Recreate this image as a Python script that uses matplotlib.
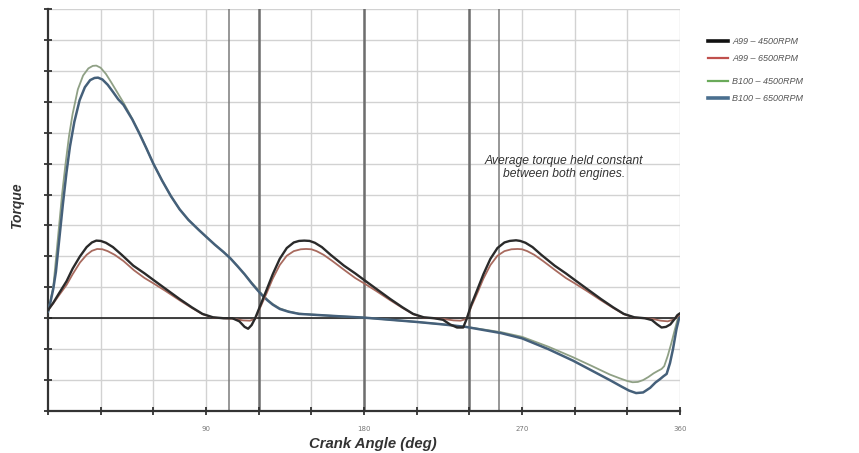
import numpy as np
import matplotlib
matplotlib.use('Agg')
from matplotlib import pyplot as plt
from matplotlib.lines import Line2D

# A99 - 4500RPM (three pulses per revolution)
a99_4500_deg = [0, 3, 6, 10.6, 14, 18.2, 22, 25, 27.5, 30, 33, 37, 42, 48.6, 55, 60, 67, 75, 82, 88, 94,
                100, 105, 109, 112, 114, 116, 118, 121, 124.6, 128, 132, 136, 140, 143, 146, 149, 152,
                156, 161, 168.6, 175, 180, 187, 195, 202, 208, 214, 220, 225, 229, 233, 236.5, 238.5,
                241, 244.6, 248, 252, 256, 260, 263, 266.6, 269, 272, 276, 281, 288.6, 295, 300, 307,
                315, 322, 328, 334, 340, 344, 347, 349.5, 352, 354.5, 357, 358.5, 360]
a99_4500_val = [0.26, 0.5, 0.78, 1.2, 1.6, 2.0, 2.3, 2.45, 2.51, 2.5, 2.44, 2.3, 2.05, 1.7, 1.45, 1.24,
                0.95, 0.62, 0.35, 0.14, 0.03, 0.0, 0.0, -0.1, -0.28, -0.34, -0.22, 0.0, 0.42, 0.93,
                1.42, 1.92, 2.27, 2.45, 2.5, 2.51, 2.5, 2.44, 2.3, 2.05, 1.7, 1.45, 1.24, 0.95, 0.62,
                0.35, 0.14, 0.03, 0.0, -0.05, -0.2, -0.3, -0.3, -0.02, 0.42, 0.93, 1.42, 1.92, 2.27,
                2.45, 2.5, 2.52, 2.5, 2.44, 2.3, 2.05, 1.7, 1.45, 1.24, 0.95, 0.62, 0.35, 0.14, 0.03,
                0.0, -0.06, -0.2, -0.3, -0.28, -0.2, -0.02, 0.1, 0.16]

# A99 - 6500RPM
a99_6500_deg = [0, 3, 6, 10.6, 14, 18.2, 22, 25, 28, 31, 34, 38, 43, 49, 55, 60, 67, 75, 82, 88, 94, 100,
                106, 111, 115, 118, 121, 124.6, 128, 132, 136, 140, 144, 147, 150, 153, 157, 162, 169,
                175, 180, 187, 195, 202, 208, 214, 220, 226, 231, 235, 238.5, 241, 244.6, 248, 252,
                256, 260, 264, 267.5, 270, 273, 277, 282, 289, 295, 300, 307, 315, 322, 328, 334, 340,
                345, 349, 353, 356, 358.5, 360]
a99_6500_val = [0.26, 0.48, 0.72, 1.08, 1.42, 1.8, 2.05, 2.18, 2.24, 2.23, 2.17, 2.05, 1.85, 1.55, 1.3,
                1.13, 0.88, 0.58, 0.33, 0.13, 0.02, 0.0, -0.02, -0.07, -0.08, -0.02, 0.36, 0.82, 1.28,
                1.72, 2.02, 2.17, 2.23, 2.24, 2.23, 2.17, 2.05, 1.85, 1.55, 1.3, 1.13, 0.88, 0.58,
                0.33, 0.13, 0.02, 0.0, -0.03, -0.07, -0.08, -0.02, 0.36, 0.82, 1.28, 1.72, 2.02, 2.17,
                2.23, 2.24, 2.23, 2.17, 2.05, 1.85, 1.55, 1.3, 1.13, 0.88, 0.58, 0.33, 0.13, 0.02,
                0.0, -0.03, -0.08, -0.1, -0.05, 0.05, 0.12]

# B100 - 4500RPM (one big pulse per revolution)
b100_4500_deg = [0, 1.5, 3, 4, 6, 8, 10, 12, 14, 17, 20, 23, 25.5, 27.5, 30, 33, 36, 39.5, 43, 48, 52,
                 56, 60, 65, 70, 75, 80, 86, 90, 95, 100, 104, 108, 112, 116, 119, 122, 125, 128, 132,
                 137, 143, 155, 167, 180, 195, 210, 225, 238, 250, 258, 270, 285, 299, 310, 320, 326,
                 330, 333, 336, 339, 342, 345, 347.5, 349.5, 351, 353, 355, 357, 358.5, 360]
b100_4500_val = [0.2, 0.6, 1.0, 1.6, 2.8, 4.0, 5.0, 5.9, 6.6, 7.4, 7.85, 8.08, 8.16, 8.17, 8.1, 7.9,
                 7.63, 7.3, 6.97, 6.45, 6.0, 5.5, 5.0, 4.45, 3.95, 3.52, 3.18, 2.85, 2.64, 2.38, 2.14,
                 1.93, 1.68, 1.42, 1.15, 0.96, 0.77, 0.6, 0.46, 0.32, 0.22, 0.15, 0.1, 0.06, 0.02,
                 -0.05, -0.12, -0.2, -0.28, -0.38, -0.45, -0.6, -0.92, -1.26, -1.55, -1.82, -1.95,
                 -2.03, -2.07, -2.06, -2.0, -1.9, -1.78, -1.7, -1.64, -1.55, -1.22, -0.82, -0.38,
                 -0.06, 0.16]

# B100 - 6500RPM
b100_6500_deg = [0, 1.5, 3, 4.5, 6.5, 8.5, 10.5, 12.5, 15, 18, 21, 24, 26.5, 28.5, 31, 34, 37, 40, 43,
                 48, 52, 56, 60, 65, 70, 75, 80, 86, 90, 95, 100, 104, 108, 112, 116, 119, 122, 125,
                 128, 132, 137, 143, 155, 167, 180, 195, 210, 225, 238, 250, 258, 270, 285, 299, 310,
                 320, 327, 331, 335, 339, 343, 346, 348.6, 350.5, 352.4, 354.3, 356, 358, 360]
b100_6500_val = [0.2, 0.55, 0.95, 1.5, 2.6, 3.7, 4.7, 5.55, 6.35, 7.05, 7.47, 7.7, 7.77, 7.78, 7.72,
                 7.55, 7.32, 7.08, 6.9, 6.43, 5.98, 5.5, 5.0, 4.45, 3.95, 3.52, 3.18, 2.85, 2.64, 2.38,
                 2.14, 1.93, 1.68, 1.42, 1.13, 0.93, 0.74, 0.58, 0.44, 0.3, 0.21, 0.14, 0.1, 0.06,
                 0.02, -0.05, -0.12, -0.2, -0.28, -0.4, -0.48, -0.65, -1.0, -1.37, -1.7, -2.0, -2.22,
                 -2.34, -2.42, -2.4, -2.25, -2.08, -1.97, -1.88, -1.8, -1.45, -1.0, -0.35, 0.12]

# darker reference lines (deg)
ref_thin = [103, 257]
ref_thick = [120, 180, 240]
xtick_labels = [90, 180, 270, 360]

fig = plt.figure(figsize=(8.59, 4.53), dpi=100)
ax = fig.add_axes([48 / 859, 1 - 411 / 453, 632 / 859, 402 / 453])

ax.set_xlim(0, 360)
ax.set_ylim(-3, 10)

# light grid
for x in range(30, 361, 30):
    ax.axvline(x, color='#d2d2d2', lw=1.0, zorder=0)
for y in range(-2, 11):
    ax.axhline(y, color='#d2d2d2', lw=1.0, zorder=0)
for x in ref_thin:
    ax.axvline(x, color='#7a7a7a', lw=1.1, zorder=1)
for x in ref_thick:
    ax.axvline(x, color='#6e6e6e', lw=1.8, zorder=1)
ax.axhline(0, color='#222222', lw=1.2, zorder=2)

kw = dict(solid_joinstyle='round', solid_capstyle='round')
ax.plot(b100_4500_deg, b100_4500_val, color='#8fa085', lw=1.3, zorder=3, **kw)
ax.plot(b100_6500_deg, b100_6500_val, color='#45607a', lw=1.8, zorder=4, **kw)
ax.plot(a99_6500_deg, a99_6500_val, color='#a86a5e', lw=1.3, zorder=5, **kw)
ax.plot(a99_4500_deg, a99_4500_val, color='#2a2a2a', lw=1.7, zorder=6, **kw)

for s in ['top', 'right']:
    ax.spines[s].set_visible(False)
ax.spines['left'].set_linewidth(1.6)
ax.spines['bottom'].set_linewidth(1.6)
ax.spines['left'].set_color('#333333')
ax.spines['bottom'].set_color('#333333')

ax.set_xticks(range(0, 361, 30))
ax.set_xticklabels([str(x) if x in xtick_labels else '' for x in range(0, 361, 30)])
ax.set_yticks(range(-3, 11))
ax.set_yticklabels([])
ax.tick_params(direction='inout', length=6, width=1.3, color='#333333')
ax.tick_params(axis='x', labelsize=5, labelcolor='#777777', pad=8)

ax.set_xlabel('Crank Angle (deg)', family='Liberation Sans', weight='bold', style='italic',
              fontsize=10.7, color='#333333')
ax.xaxis.set_label_coords((373 - 48) / 632, -0.065)
ax.set_ylabel('Torque', family='Liberation Sans', weight='bold', style='italic',
              fontsize=10, color='#333333')
ax.yaxis.set_label_coords(-24 / 632, (411 - 206) / 402)

ax.text(294, 4.86, 'Average torque held constant\nbetween both engines.', ha='center', va='center',
        family='Liberation Sans', style='italic', fontsize=8.7, color='#333333', linespacing=1.1)

# legend in two groups
h1 = [Line2D([], [], color='#111111', lw=2.6), Line2D([], [], color='#c0504d', lw=1.6)]
h2 = [Line2D([], [], color='#6aaa5a', lw=1.6), Line2D([], [], color='#4a6f8f', lw=2.6)]
lkw = dict(frameon=False, handlelength=2.2, handletextpad=0.5, labelspacing=0.85,
           prop={'family': 'Liberation Sans', 'style': 'italic', 'size': 6.5}, labelcolor='#555555')
leg1 = fig.legend(h1, ['A99 \u2013 4500RPM', 'A99 \u2013 6500RPM'], loc='upper left',
                  bbox_to_anchor=(700 / 859, 1 - 29 / 453), **lkw)
leg2 = fig.legend(h2, ['B100 \u2013 4500RPM', 'B100 \u2013 6500RPM'], loc='upper left',
                  bbox_to_anchor=(700 / 859, 1 - 69 / 453), **lkw)

fig.savefig('out.png', dpi=100)
